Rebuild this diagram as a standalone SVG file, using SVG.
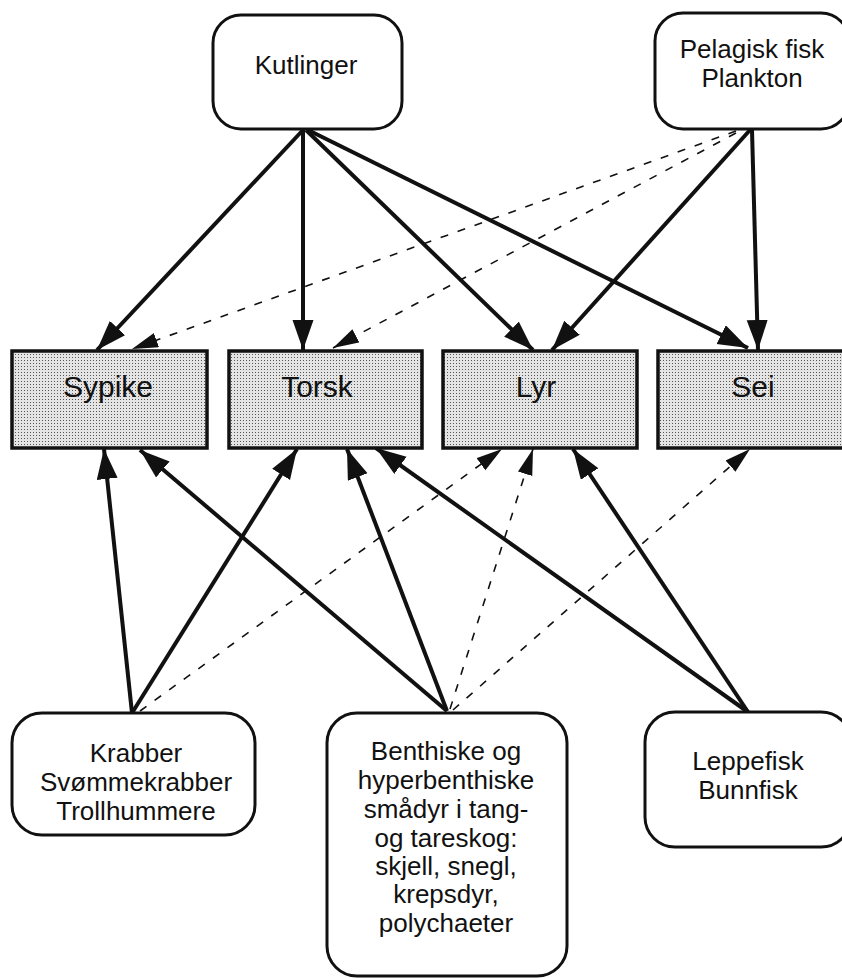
<svg xmlns="http://www.w3.org/2000/svg" width="842" height="978" viewBox="0 0 842 978">
<defs>
<style>
.node{fill:#fff;stroke:#111;stroke-width:3}
.fish{fill:url(#dots);stroke:#111;stroke-width:3.5}
.t{font-family:"Liberation Sans",Arial,sans-serif;font-size:26px;fill:#111;text-anchor:middle}
.tb{font-family:"Liberation Sans",Arial,sans-serif;font-size:30px;fill:#111;text-anchor:middle}
.solid{stroke:#111;stroke-width:4;fill:none;marker-end:url(#ah)}
.dash{stroke:#111;stroke-width:1.6;fill:none;stroke-dasharray:8 10;marker-end:url(#ahd)}
</style>
<pattern id="dots" width="3" height="3" patternUnits="userSpaceOnUse">
<rect width="3" height="3" fill="#e4e4e4"/>
<rect width="1" height="1" fill="#555"/>
</pattern>
<marker id="ah" markerUnits="userSpaceOnUse" markerWidth="31" markerHeight="22" refX="30" refY="10.5" orient="auto">
<path d="M0,0 L30,10.5 L0,21 z" fill="#111"/>
</marker>
<marker id="ahd" markerUnits="userSpaceOnUse" markerWidth="27" markerHeight="16" refX="26" refY="7.5" orient="auto">
<path d="M0,0 L26,7.5 L0,15 z" fill="#111"/>
</marker>
</defs>
<rect width="842" height="978" fill="#fff"/>
<g id="connectors">
<line class="solid" x1="303" y1="130" x2="97" y2="350"/>
<line class="solid" x1="303" y1="130" x2="303" y2="350"/>
<line class="solid" x1="306" y1="130" x2="533" y2="350"/>
<line class="solid" x1="308" y1="130" x2="748" y2="348"/>
<line class="solid" x1="750" y1="130" x2="552" y2="350"/>
<line class="solid" x1="752" y1="130" x2="758" y2="350"/>
<line class="solid" x1="132" y1="713" x2="104" y2="449"/>
<line class="solid" x1="132" y1="713" x2="297" y2="449"/>
<line class="solid" x1="447" y1="711" x2="140" y2="450"/>
<line class="solid" x1="447" y1="711" x2="347" y2="449"/>
<line class="solid" x1="748" y1="712" x2="376" y2="448"/>
<line class="solid" x1="748" y1="712" x2="573" y2="449"/>
<line class="dash" x1="736" y1="131" x2="132" y2="349"/>
<line class="dash" x1="736" y1="133" x2="333" y2="348"/>
<line class="dash" x1="140" y1="711" x2="502" y2="449"/>
<line class="dash" x1="450" y1="709" x2="533" y2="449"/>
<line class="dash" x1="453" y1="710" x2="750" y2="449"/>
</g>
<g id="kutlinger">
<rect class="node" x="213" y="15" width="189" height="114" rx="28"/>
<text class="t" x="306" y="74">Kutlinger</text>
</g>
<g id="pelagisk">
<rect class="node" x="655" y="13" width="194" height="116" rx="28"/>
<text class="t" x="752" y="58">Pelagisk fisk</text>
<text class="t" x="752" y="87">Plankton</text>
</g>
<g id="sypike">
<rect class="fish" x="12" y="351" width="195" height="97"/>
<text class="tb" x="108" y="397">Sypike</text>
</g>
<g id="torsk">
<rect class="fish" x="229" y="351" width="193" height="97"/>
<text class="tb" x="317" y="397">Torsk</text>
</g>
<g id="lyr">
<rect class="fish" x="443" y="351" width="194" height="97"/>
<text class="tb" x="536" y="397">Lyr</text>
</g>
<g id="sei">
<rect class="fish" x="658" y="351" width="192" height="97"/>
<text class="tb" x="753" y="397">Sei</text>
</g>
<g id="krabber">
<rect class="node" x="12" y="713" width="243" height="122" rx="30"/>
<text class="t" x="136" y="762">Krabber</text>
<text class="t" x="136" y="791">Svømmekrabber</text>
<text class="t" x="136" y="820">Trollhummere</text>
</g>
<g id="benthiske">
<rect class="node" x="327" y="713" width="240" height="263" rx="30"/>
<text class="t" x="446" y="760">Benthiske og</text>
<text class="t" x="446" y="789">hyperbenthiske</text>
<text class="t" x="446" y="818">smådyr i tang-</text>
<text class="t" x="446" y="847">og tareskog:</text>
<text class="t" x="446" y="875">skjell, snegl,</text>
<text class="t" x="446" y="903">krepsdyr,</text>
<text class="t" x="446" y="932">polychaeter</text>
</g>
<g id="leppefisk">
<rect class="node" x="645" y="712" width="206" height="135" rx="30"/>
<text class="t" x="748" y="770">Leppefisk</text>
<text class="t" x="748" y="799">Bunnfisk</text>
</g>
</svg>
